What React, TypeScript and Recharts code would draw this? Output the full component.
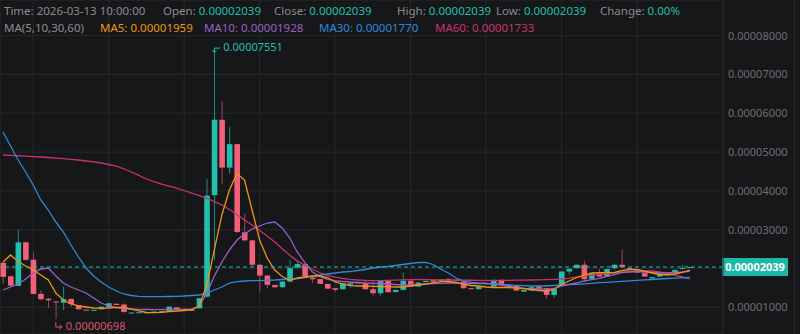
import { ComposedChart, Bar, Line, XAxis, YAxis, CartesianGrid, ReferenceLine, ReferenceDot } from "recharts";

// prices in units of 1e-8
const OPEN = [
  2147, 1800, 1552, 2673, 2225, 1345, 1220, 1150, 1119, 1215,
  1052, 940, 925, 948, 1000, 1090, 1073, 855, 862, 865,
  880, 890, 904, 1000, 960, 935, 974, 1275, 3890, 5833,
  4600, 5204, 2932, 2725, 2096, 1818, 1578, 1518, 1663, 2026,
  2114, 1767, 1725, 1603, 1492, 1466, 1580, 1620, 1620, 1466,
  1363, 1681, 1396, 1448, 1681, 1534, 1650, 1707, 1680, 1733,
  1695, 1663, 1492, 1466, 1600, 1534, 1707, 1578, 1552, 1404,
  1430, 1534, 1492, 1319, 1578, 1922, 2010, 2096, 1733, 1880,
  1793, 2010, 2096, 1980, 1963, 1880, 1741, 1793, 1837, 1896,
  1984, 2039,
];
const HIGH = [
  2170, 1820, 3000, 2690, 2410, 1430, 1240, 1160, 1530, 1230,
  1060, 945, 940, 1020, 1110, 1100, 1100, 870, 875, 878,
  895, 905, 1020, 1005, 965, 940, 1240, 4315, 7551, 6300,
  5640, 5210, 3409, 2740, 2110, 1830, 1580, 1680, 2225, 2210,
  2130, 1780, 1730, 1610, 1500, 1630, 1630, 1650, 1700, 1700,
  1700, 1700, 1450, 1896, 1690, 1645, 1690, 1715, 1725, 1740,
  1705, 1670, 1495, 1540, 1630, 1720, 1720, 1585, 1560, 1450,
  1530, 1580, 1500, 1480, 1930, 2000, 2100, 2200, 1890, 1984,
  2000, 2110, 2484, 2020, 1970, 1890, 1780, 1845, 1885, 1970,
  2096, 2039,
];
const LOW = [
  1603, 1540, 1550, 2200, 1330, 1190, 980, 698, 930, 1010,
  940, 920, 920, 940, 995, 1055, 860, 850, 858, 860,
  875, 885, 900, 945, 920, 920, 970, 1250, 2225, 4170,
  4445, 2920, 2700, 2060, 1404, 1490, 1500, 1490, 1650, 2000,
  1780, 1620, 1600, 1470, 1400, 1460, 1500, 1610, 1460, 1300,
  1300, 1380, 1380, 1440, 1530, 1530, 1645, 1655, 1675, 1680,
  1690, 1480, 1460, 1460, 1590, 1530, 1590, 1530, 1420, 1400,
  1420, 1460, 1215, 1250, 1560, 1837, 2000, 1650, 1720, 1780,
  1780, 1970, 2030, 1970, 1890, 1790, 1735, 1790, 1830, 1890,
  1980, 2039,
];
const CLOSE = [
  1785, 1560, 2673, 2225, 1345, 1207, 1180, 1130, 1207, 1085,
  948, 925, 935, 1016, 1103, 1060, 880, 865, 872, 874,
  890, 900, 1016, 950, 925, 925, 1233, 3878, 5833, 4600,
  5204, 2942, 2725, 2096, 1818, 1578, 1518, 1663, 2010, 2114,
  1793, 1725, 1603, 1482, 1450, 1620, 1620, 1640, 1466, 1363,
  1681, 1389, 1448, 1681, 1534, 1637, 1680, 1663, 1720, 1690,
  1700, 1492, 1466, 1534, 1620, 1707, 1603, 1534, 1430, 1448,
  1518, 1466, 1319, 1466, 1922, 1992, 2096, 1725, 1880, 1793,
  1984, 2096, 2036, 2010, 1896, 1793, 1776, 1837, 1880, 1963,
  2010, 2039,
];

const MA5 = [
  2167, 2348, 2180, 2064, 1961, 1832, 1703, 1369, 1188, 1085,
  1034, 1008, 982, 974, 982, 1000, 995, 956, 905, 866,
  861, 871, 892, 905, 918, 943, 1034, 1575, 2477, 3379,
  4023, 4448, 4280, 3507, 2734, 2270, 1961, 1794, 1703, 1755,
  1781, 1806, 1806, 1768, 1652, 1600, 1557, 1549, 1549, 1541,
  1536, 1531, 1523, 1523, 1549, 1575, 1600, 1634, 1660, 1665,
  1639, 1600, 1562, 1549, 1523, 1510, 1510, 1505, 1497, 1484,
  1459, 1433, 1420, 1459, 1588, 1678, 1768, 1832, 1884, 1892,
  1892, 1897, 1948, 1974, 1974, 1935, 1884, 1845, 1832, 1858,
  1897, 1959,
];
const MA10 = [
  1446, 1523, 1600, 1729, 1884, 1987, 2013, 1807, 1626, 1523,
  1446, 1369, 1240, 1111, 1034, 995, 969, 956, 943, 943,
  938, 938, 943, 948, 948, 948, 1034, 1360, 1807, 2167,
  2477, 2734, 2889, 3018, 3095, 3172, 3198, 3044, 2786, 2420,
  2150, 1910, 1790, 1720, 1690, 1665, 1652, 1639, 1626, 1618,
  1613, 1600, 1588, 1575, 1575, 1582, 1600, 1613, 1618, 1626,
  1626, 1618, 1613, 1613, 1618, 1600, 1575, 1536, 1510, 1490,
  1479, 1472, 1464, 1484, 1549, 1588, 1626, 1678, 1716, 1747,
  1794, 1845, 1892, 1910, 1917, 1910, 1897, 1884, 1884, 1897,
  1910, 1928,
];
const MA30 = [
  5518, 5157, 4796, 4487, 4152, 3765, 3507, 3198, 2940, 2605,
  2296, 2013, 1807, 1652, 1523, 1420, 1343, 1304, 1283, 1273,
  1273, 1273, 1278, 1283, 1291, 1304, 1317, 1368, 1446, 1523,
  1626, 1660, 1678, 1685, 1690, 1696, 1703, 1716, 1729, 1742,
  1768, 1806, 1832, 1858, 1884, 1910, 1922, 1948, 1974, 2013,
  2039, 2051, 2077, 2103, 2129, 2155, 2160, 2103, 1987, 1884,
  1755, 1678, 1644, 1626, 1618, 1606, 1593, 1580, 1567, 1557,
  1549, 1549, 1549, 1562, 1575, 1582, 1593, 1606, 1618, 1634,
  1644, 1657, 1670, 1683, 1696, 1706, 1716, 1729, 1742, 1750,
  1760, 1770,
];
const MA60 = [
  4925, 4915, 4905, 4895, 4885, 4873, 4860, 4845, 4830, 4813,
  4796, 4770, 4745, 4719, 4680, 4641, 4570, 4487, 4400, 4306,
  4240, 4177, 4125, 4074, 4010, 3945, 3880, 3816, 3725, 3636,
  3520, 3390, 3250, 3120, 2980, 2840, 2680, 2510, 2340, 2190,
  2080, 1980, 1890, 1820, 1775, 1745, 1720, 1703, 1695, 1690,
  1690, 1695, 1700, 1705, 1710, 1716, 1712, 1708, 1705, 1703,
  1703, 1700, 1697, 1694, 1692, 1690, 1692, 1695, 1698, 1700,
  1703, 1708, 1714, 1720, 1729, 1750, 1778, 1806, 1830, 1852,
  1871, 1888, 1905, 1922, 1930, 1935, 1935, 1910, 1871, 1830,
  1781, 1733,
];

const Y_TICKS = [1000, 2000, 3000, 4000, 5000, 6000, 7000, 8000];
const X_GRID = [4, 14, 24, 34, 44, 54, 64, 74, 84];
const LAST_PRICE = 2039;
const HIGH_POINT = { i: 28, v: 7551 };
const LOW_POINT = { i: 7, v: 698 };

const BG = "#161719";
const GRID = "#27282b";
const UP = "#22bfac";
const DOWN = "#f25f78";
const UP_WICK = "#1f8c80";
const DOWN_WICK = "#a14759";
const GRAY = "#8a8b90";
const C_MA5 = "#ec9513";
const C_MA10 = "#9b5fc6";
const C_MA30 = "#2f89d8";
const C_MA60 = "#c8336e";
const FONT = "'Noto Sans', sans-serif";

const fmt = (v: number) => (v / 1e8).toFixed(8);

const data = OPEN.map((o, i) => ({
  i,
  o,
  h: HIGH[i],
  l: LOW[i],
  c: CLOSE[i],
  ma5: MA5[i],
  ma10: MA10[i],
  ma30: MA30[i],
  ma60: MA60[i],
}));

function Candle(props: any) {
  const { x, y, width, height, payload } = props;
  const { o, h, l, c } = payload;
  const top = Math.min(y, y + height);
  const span = Math.abs(height);
  const py = (v: number) => (h === l ? top : top + ((h - v) / (h - l)) * span);
  const up = c >= o;
  const cx = x + width / 2;
  const bodyTop = py(Math.max(o, c));
  const bodyH = Math.max(1, py(Math.min(o, c)) - bodyTop);
  return (
    <g>
      <line x1={cx} x2={cx} y1={top} y2={top + span} stroke={up ? UP_WICK : DOWN_WICK} strokeWidth={1} />
      <rect x={cx - 2.8} y={bodyTop} width={5.6} height={bodyH} fill={up ? UP : DOWN} />
    </g>
  );
}

function PriceTick(props: any) {
  const { x, y, payload } = props;
  if (payload.value === 2000) return <g />;
  return (
    <text x={x} y={y} dy={4} fill="#6d6e73" fontSize={11} fontFamily={FONT} textAnchor="start">
      {fmt(payload.value)}
    </text>
  );
}

function PriceTag(props: any) {
  const { viewBox } = props;
  const x = viewBox.x + viewBox.width - 1;
  const y = viewBox.y;
  return (
    <g>
      <rect x={x} y={y - 9} width={66} height={18} fill="#1db7a5" />
      <text x={x + 33} y={y + 4} fill="#ffffff" fontSize={11} fontWeight={700} fontFamily={FONT} textAnchor="middle">
        {fmt(LAST_PRICE)}
      </text>
    </g>
  );
}

function HighMark(props: any) {
  const { cx, cy } = props;
  return (
    <g>
      <path d={`M${cx + 6},${cy - 5} H${cx} V${cy - 1}`} stroke={UP} fill="none" strokeWidth={1} />
      <path d={`M${cx - 2},${cy - 3} L${cx},${cy - 0.5} L${cx + 2},${cy - 3}`} stroke={UP} fill="none" strokeWidth={1} />
      <text x={cx + 9} y={cy - 2} fill={UP} fontSize={11} fontFamily={FONT}>
        {fmt(HIGH_POINT.v)}
      </text>
    </g>
  );
}

function LowMark(props: any) {
  const { cx, cy } = props;
  return (
    <g>
      <path d={`M${cx},${cy + 3} V${cy + 8} H${cx + 6}`} stroke="#d9566c" fill="none" strokeWidth={1} />
      <path d={`M${cx + 3.5},${cy + 6} L${cx + 6},${cy + 8} L${cx + 3.5},${cy + 10}`} stroke="#d9566c" fill="none" strokeWidth={1} />
      <text x={cx + 10} y={cy + 11} fill="#d9566c" fontSize={11} fontFamily={FONT}>
        {fmt(LOW_POINT.v)}
      </text>
    </g>
  );
}

const row: any = { position: "absolute", fontFamily: FONT, fontSize: 11.5, lineHeight: "16px", whiteSpace: "nowrap" };

function Item({ left, top, label, value, color }: any) {
  return (
    <div style={{ ...row, left, top }}>
      <span style={{ color: GRAY }}>{label}</span>
      <span style={{ color }}>{value}</span>
    </div>
  );
}

export default function App() {
  const last = data[data.length - 1];
  return (
    <div style={{ position: "relative", width: 800, height: 334, background: BG, overflow: "hidden" }}>
      <style>{`body{margin:0;background:${BG};}`}</style>
      <ComposedChart width={800} height={334} data={data} margin={{ top: 0, right: 0, bottom: 0, left: 0 }}>
        <CartesianGrid stroke={GRID} strokeWidth={1} />
        <XAxis dataKey="i" type="number" domain={[-0.4, 95.4]} ticks={X_GRID} hide />
        <YAxis
          orientation="right"
          type="number"
          domain={[312, 8919]}
          allowDataOverflow
          ticks={Y_TICKS}
          interval={0}
          width={77}
          axisLine={{ stroke: GRID }}
          tickLine={false}
          tickSize={3}
          tickMargin={2}
          tick={<PriceTick />}
        />
        <Bar dataKey={(d: any) => [d.l, d.h]} barSize={6} shape={<Candle />} isAnimationActive={false} />
        <Line dataKey="ma60" type="linear" stroke={C_MA60} strokeWidth={1.3} dot={false} activeDot={false} isAnimationActive={false} />
        <Line dataKey="ma30" type="linear" stroke={C_MA30} strokeWidth={1.3} dot={false} activeDot={false} isAnimationActive={false} />
        <Line dataKey="ma10" type="linear" stroke={C_MA10} strokeWidth={1.3} dot={false} activeDot={false} isAnimationActive={false} />
        <Line dataKey="ma5" type="linear" stroke={C_MA5} strokeWidth={1.3} dot={false} activeDot={false} isAnimationActive={false} />
        <ReferenceLine y={LAST_PRICE} stroke={UP} strokeDasharray="4 3" label={<PriceTag />} />
        <ReferenceDot x={HIGH_POINT.i} y={HIGH_POINT.v} shape={<HighMark />} />
        <ReferenceDot x={LOW_POINT.i} y={LOW_POINT.v} shape={<LowMark />} />
      </ComposedChart>
      <div style={{ position: "absolute", left: 794, top: 0, width: 1, height: 334, background: GRID }} />

      <div style={{ ...row, left: 4, top: 3, color: GRAY }}>Time: 2026-03-13 10:00:00</div>
      <Item left={163} top={3} label="Open: " value={fmt(last.o)} color={UP} />
      <Item left={274} top={3} label="Close: " value={fmt(last.c)} color={UP} />
      <Item left={397} top={3} label="High: " value={fmt(last.h)} color={UP} />
      <Item left={496} top={3} label="Low: " value={fmt(last.l)} color={UP} />
      <Item left={600} top={3} label="Change: " value="0.00%" color={UP} />

      <div style={{ ...row, left: 4, top: 20, color: GRAY }}>MA(5,10,30,60)</div>
      <div style={{ ...row, left: 100, top: 20, color: C_MA5 }}>MA5: {fmt(last.ma5)}</div>
      <div style={{ ...row, left: 204, top: 20, color: C_MA10 }}>MA10: {fmt(last.ma10)}</div>
      <div style={{ ...row, left: 319, top: 20, color: C_MA30 }}>MA30: {fmt(last.ma30)}</div>
      <div style={{ ...row, left: 435, top: 20, color: C_MA60 }}>MA60: {fmt(last.ma60)}</div>
    </div>
  );
}
